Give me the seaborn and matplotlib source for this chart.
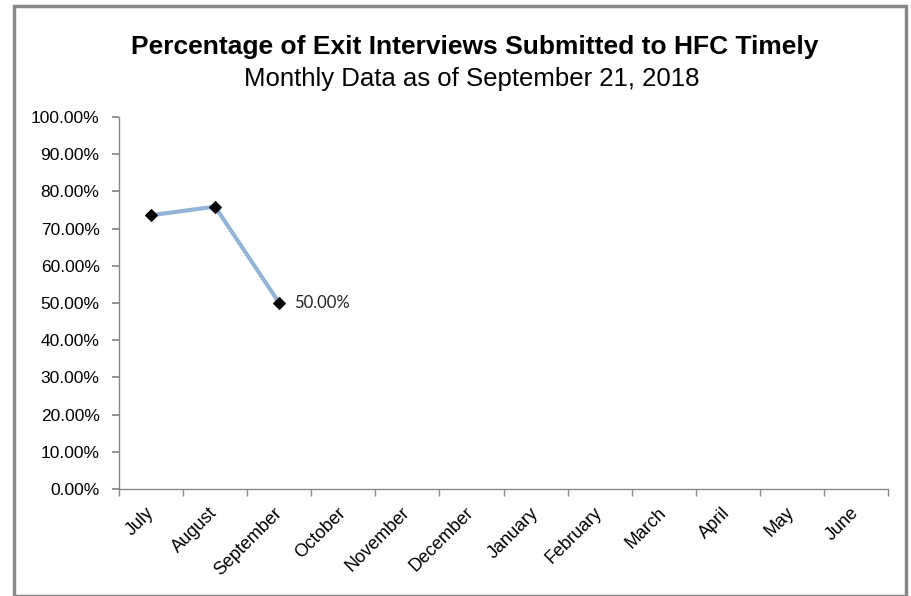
import seaborn as sns
import matplotlib.pyplot as plt
import matplotlib.transforms as mtrans
import pandas as pd
from matplotlib.patches import Rectangle
from matplotlib.ticker import FuncFormatter, FixedLocator

# Data
months = ["July", "August", "September", "October", "November", "December",
          "January", "February", "March", "April", "May", "June"]
reported_months = ["July", "August", "September"]
pct_timely = [73.6, 75.9, 50.0]

df = pd.DataFrame({"Month": reported_months, "Pct": pct_timely})
df["Pos"] = [months.index(m) for m in df["Month"]]

sns.set_theme(style="white")
plt.rcParams["font.family"] = ["Liberation Sans", "DejaVu Sans"]
plt.rcParams["text.color"] = "black"
plt.rcParams["xtick.labelcolor"] = "black"
plt.rcParams["ytick.labelcolor"] = "black"

fig = plt.figure(figsize=(9.11, 5.96), dpi=100)
ax = fig.add_axes([0.1306, 0.1795, 0.8442, 0.6242])

sns.lineplot(x="Pos", y="Pct", data=df, ax=ax, color="#95B3D7", linewidth=3,
             marker="D", markersize=6.5, markerfacecolor="black",
             markeredgecolor="black", zorder=3)

# data label on the last point
last = df.iloc[-1]
ax.annotate(f"{last['Pct']:.2f}%", (last["Pos"], last["Pct"]), xytext=(11, 0),
            textcoords="offset points", va="center", ha="left", fontsize=12,
            family=["Lato", "DejaVu Sans"], color="#222222")

ax.set_xlim(-0.5, len(months) - 0.5)
ax.set_ylim(0, 100)
ax.set_yticks(range(0, 101, 10))
ax.yaxis.set_major_formatter(FuncFormatter(lambda v, p: f"{v:.2f}%"))
ax.set_xticks(range(len(months)))
ax.set_xticklabels(months, rotation=45, ha="right", rotation_mode="anchor", fontsize=13)
ax.tick_params(axis="x", length=0, pad=11)
shift = mtrans.ScaledTranslation(-6 / 100, 0, fig.dpi_scale_trans)
for lbl in ax.get_xticklabels():
    lbl.set_transform(lbl.get_transform() + shift)
ax.xaxis.set_minor_locator(FixedLocator([i - 0.5 for i in range(len(months) + 1)]))
ax.tick_params(axis="x", which="minor", length=5, color="#888888", bottom=True)
ax.tick_params(axis="y", length=5, color="#888888", left=True, labelsize=12.5, pad=9)
ax.set_xlabel("")
ax.set_ylabel("")

for s in ["top", "right"]:
    ax.spines[s].set_visible(False)
for s in ["left", "bottom"]:
    ax.spines[s].set_color("#888888")
    ax.spines[s].set_linewidth(1)

fig.text(0.521, 0.921, "Percentage of Exit Interviews Submitted to HFC Timely",
         ha="center", va="center", fontsize=19, fontweight="bold")
fig.text(0.518, 0.868, "Monthly Data as of September 21, 2018",
         ha="center", va="center", fontsize=18.5)

# chart border
fig.patches.append(Rectangle((14 / 911, 0.0), 892 / 911, 1 - 6 / 596,
                             transform=fig.transFigure, fill=False,
                             edgecolor="#888888", linewidth=2.5))

fig.savefig("out.png", dpi=100)
